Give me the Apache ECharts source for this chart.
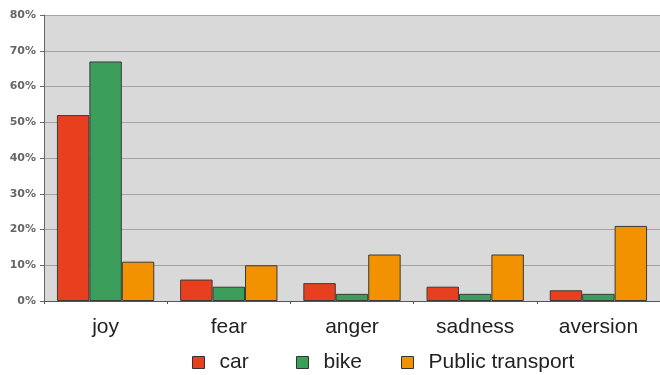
<!DOCTYPE html>
<html>
<head>
<meta charset="utf-8">
<script src="https://cdn.jsdelivr.net/npm/echarts@6/dist/echarts.min.js"></script>
<style>html,body{margin:0;padding:0;background:#fff}#c{width:660px;height:375px}</style>
</head>
<body>
<div id="c"></div>
<script>
var categories = ['joy', 'fear', 'anger', 'sadness', 'aversion'];
var carValues = [52, 6, 5, 4, 3];
var bikeValues = [67, 4, 2, 2, 2];
var ptValues = [11, 10, 13, 13, 21];
var seriesNames = ['car', 'bike', 'Public transport'];
var colors = ['#e8401f', '#3b9f5b', '#f39200'];

var chart = echarts.init(document.getElementById('c'));
var legendLefts = [192, 296, 401];
var legends = seriesNames.map(function (n, i) {
  return {
    data: [n], left: legendLefts[i], top: 352, itemWidth: 12, itemHeight: 12,
    icon: 'rect', padding: 0,
    textStyle: { fontFamily: 'Liberation Sans', fontSize: 21, color: '#222', padding: [0, 0, 0, 10] },
    itemStyle: { borderColor: '#333', borderWidth: 1 }
  };
});
var data = [carValues, bikeValues, ptValues];
chart.setOption({
  animation: false,
  grid: { left: 44, top: 15, right: -2, bottom: 74, show: true, backgroundColor: '#d9d9d9', borderWidth: 0 },
  legend: legends,
  xAxis: {
    type: 'category', data: categories,
    axisLine: { lineStyle: { color: '#555', width: 1 } },
    axisTick: { show: true, length: 3, lineStyle: { color: '#555' } },
    axisLabel: { fontFamily: 'Liberation Sans', fontSize: 21, color: '#222', margin: 16 }
  },
  yAxis: {
    type: 'value', min: 0, max: 80, interval: 10,
    axisLine: { show: true, lineStyle: { color: '#666' } },
    axisTick: { show: true, length: 4, lineStyle: { color: '#666' } },
    axisLabel: { fontFamily: 'DejaVu Sans', fontWeight: 'bold', fontSize: 11, color: '#666', margin: 8, formatter: '{value}%' },
    splitLine: { lineStyle: { color: '#a3a3a3', width: 1 } }
  },
  series: data.map(function (d, i) {
    return {
      name: seriesNames[i], type: 'bar', data: d,
      barGap: '0%', barCategoryGap: '21%',
      itemStyle: { color: colors[i], borderColor: '#3a3a3a', borderWidth: 1 }
    };
  })
});
</script>
</body>
</html>
